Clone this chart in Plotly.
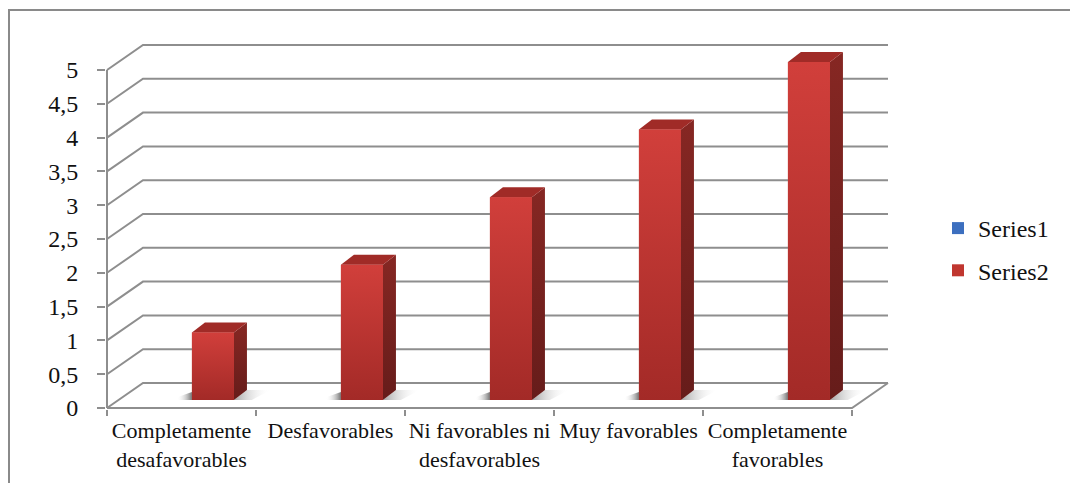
import plotly.graph_objects as go

# ---------------- data ----------------
categories = [
    "Completamente<br>desafavorables",
    "Desfavorables",
    "Ni favorables ni<br>desfavorables",
    "Muy favorables",
    "Completamente<br>favorables",
]
series1 = [0, 0, 0, 0, 0]
series2 = [1, 2, 3, 4, 5]
y_ticks = [0, 0.5, 1, 1.5, 2, 2.5, 3, 3.5, 4, 4.5, 5]

# ---------------- geometry / style ----------------
W, H = 1070, 483
L, R, T, B = 106, 895, 40, 409          # plot area in pixels
X0_PX, Y0_PX = 107, 408                  # pixel of front-left corner (x=-0.5, y=0)
PX_PER_CAT, PX_PER_UNIT = 149.0, 67.6

WALL_DX, WALL_DY = 36 / PX_PER_CAT, 25 / PX_PER_UNIT     # back-wall depth offset
BAR_X0, BAR_W = 0.07, 0.282                              # bar front face, rel. to category centre
BAR_LIFT = 8 / PX_PER_UNIT                               # bar sits a bit inside the floor
BAR_DX, BAR_DY = 13 / PX_PER_CAT, 10 / PX_PER_UNIT       # bar depth

GRID = "#8e8e8e"
FONT = dict(family="Liberation Serif", size=22, color="#111111")

n = len(categories)
xr = [-0.5 - (X0_PX - L) / PX_PER_CAT, -0.5 + (R - X0_PX) / PX_PER_CAT]
yr = [-(B - Y0_PX) / PX_PER_UNIT, (Y0_PX - T) / PX_PER_UNIT]

fig = go.Figure()

# legend entries / flat bars (covered by shaded faces below)
fig.add_trace(go.Bar(x=[i + BAR_X0 + BAR_W / 2 for i in range(n)], y=series1, base=BAR_LIFT,
                     width=BAR_W, name="Series1", marker=dict(color="#3c6fbf", line_width=0),
                     legendgroup="s1", hoverinfo="skip"))
fig.add_trace(go.Bar(x=[i + BAR_X0 + BAR_W / 2 for i in range(n)], y=series2, base=BAR_LIFT,
                     width=BAR_W, name="Series2", marker=dict(color="#c0362f", line_width=0),
                     legendgroup="s2", hoverinfo="skip"))

# 3-D frame: back wall grid, side wall diagonals, floor, vertical axis
gx, gy = [], []
left, right = -0.5, n - 0.5
for v in y_ticks:
    gx += [left, left + WALL_DX, right + WALL_DX, None]
    gy += [v, v + WALL_DY, v + WALL_DY, None]
gx += [left, right, right + WALL_DX, None, left, left]
gy += [0, 0, WALL_DY, None, 0, y_ticks[-1]]
fig.add_trace(go.Scatter(x=gx, y=gy, mode="lines", line=dict(color=GRID, width=2),
                         showlegend=False, hoverinfo="skip"))

# shaded 3-D bars
for i, v in enumerate(series2):
    x0 = i + BAR_X0
    x1 = x0 + BAR_W
    yb = BAR_LIFT
    yt = BAR_LIFT + v
    # floor shadows
    fig.add_trace(go.Scatter(
        x=[x0 - 0.1, x0, x0, x0 - 0.1], y=[yb, yb, yb + 0.12, yb + 0.04],
        fill="toself", mode="lines", line=dict(width=0),
        fillgradient=dict(type="horizontal",
                          colorscale=[[0, "rgba(255,255,255,0)"], [1, "rgba(70,70,70,0.75)"]]),
        showlegend=False, hoverinfo="skip"))
    fig.add_trace(go.Scatter(
        x=[x1, x1 + BAR_DX, x1 + BAR_DX + 0.16, x1 + 0.12], y=[yb, yb + BAR_DY, yb + BAR_DY, yb],
        fill="toself", mode="lines", line=dict(width=0),
        fillgradient=dict(type="horizontal",
                          colorscale=[[0, "rgba(90,90,90,0.55)"], [1, "rgba(255,255,255,0)"]]),
        showlegend=False, hoverinfo="skip"))
    # side face
    fig.add_trace(go.Scatter(
        x=[x1, x1 + BAR_DX, x1 + BAR_DX, x1, x1], y=[yb, yb + BAR_DY, yt + BAR_DY, yt, yb],
        fill="toself", mode="lines", line=dict(width=0),
        fillgradient=dict(type="vertical", colorscale=[[0, "#661c1a"], [1, "#862723"]]),
        showlegend=False, hoverinfo="skip"))
    # top face
    fig.add_trace(go.Scatter(
        x=[x0, x1, x1 + BAR_DX, x0 + BAR_DX, x0], y=[yt, yt, yt + BAR_DY, yt + BAR_DY, yt],
        fill="toself", mode="lines", line=dict(width=0), fillcolor="#a02b27",
        showlegend=False, hoverinfo="skip"))
    # front face
    fig.add_trace(go.Scatter(
        x=[x0, x1, x1, x0, x0], y=[yb, yb, yt, yt, yb],
        fill="toself", mode="lines", line=dict(width=0),
        fillgradient=dict(type="vertical", colorscale=[[0, "#a32a27"], [1, "#d13f3b"]]),
        showlegend=False, hoverinfo="skip"))

fig.update_layout(
    width=W, height=H,
    margin=dict(l=L, r=W - R, t=T, b=H - B),
    paper_bgcolor="white", plot_bgcolor="white",
    separators=",.",
    barmode="overlay",
    font=FONT,
    showlegend=True,
    legend=dict(xref="container", yref="container", x=938 / W, y=1 - 206 / H,
                xanchor="left", yanchor="top", font=dict(FONT, size=24), traceorder="grouped",
                tracegroupgap=8, bgcolor="rgba(0,0,0,0)"),
    xaxis=dict(type="linear", range=xr, showgrid=False, zeroline=False, showline=False,
               tickmode="array", tickvals=list(range(n)), ticktext=categories, ticks="",
               ticklabelstandoff=6,
               minor=dict(tickmode="array", tickvals=[i - 0.5 for i in range(n + 1)],
                          ticks="outside", ticklen=6, tickwidth=2, tickcolor=GRID),
               fixedrange=True),
    yaxis=dict(range=yr, showgrid=False, zeroline=False, showline=False,
               tickmode="array", tickvals=y_ticks, ticks="outside", ticklen=8,
               tickwidth=2, tickcolor=GRID, ticklabelstandoff=14, fixedrange=True,
               tickfont=dict(FONT, size=24)),
    shapes=[dict(type="rect", xref="paper", yref="paper",
                 x0=(9 - L) / (R - L), x1=(W + 20 - L) / (R - L),
                 y0=(B - (H + 20)) / (B - T), y1=(B - 10) / (B - T),
                 line=dict(color="#8a8a8a", width=2), fillcolor="rgba(0,0,0,0)",
                 layer="below")],
)

fig.write_html("out.html")
